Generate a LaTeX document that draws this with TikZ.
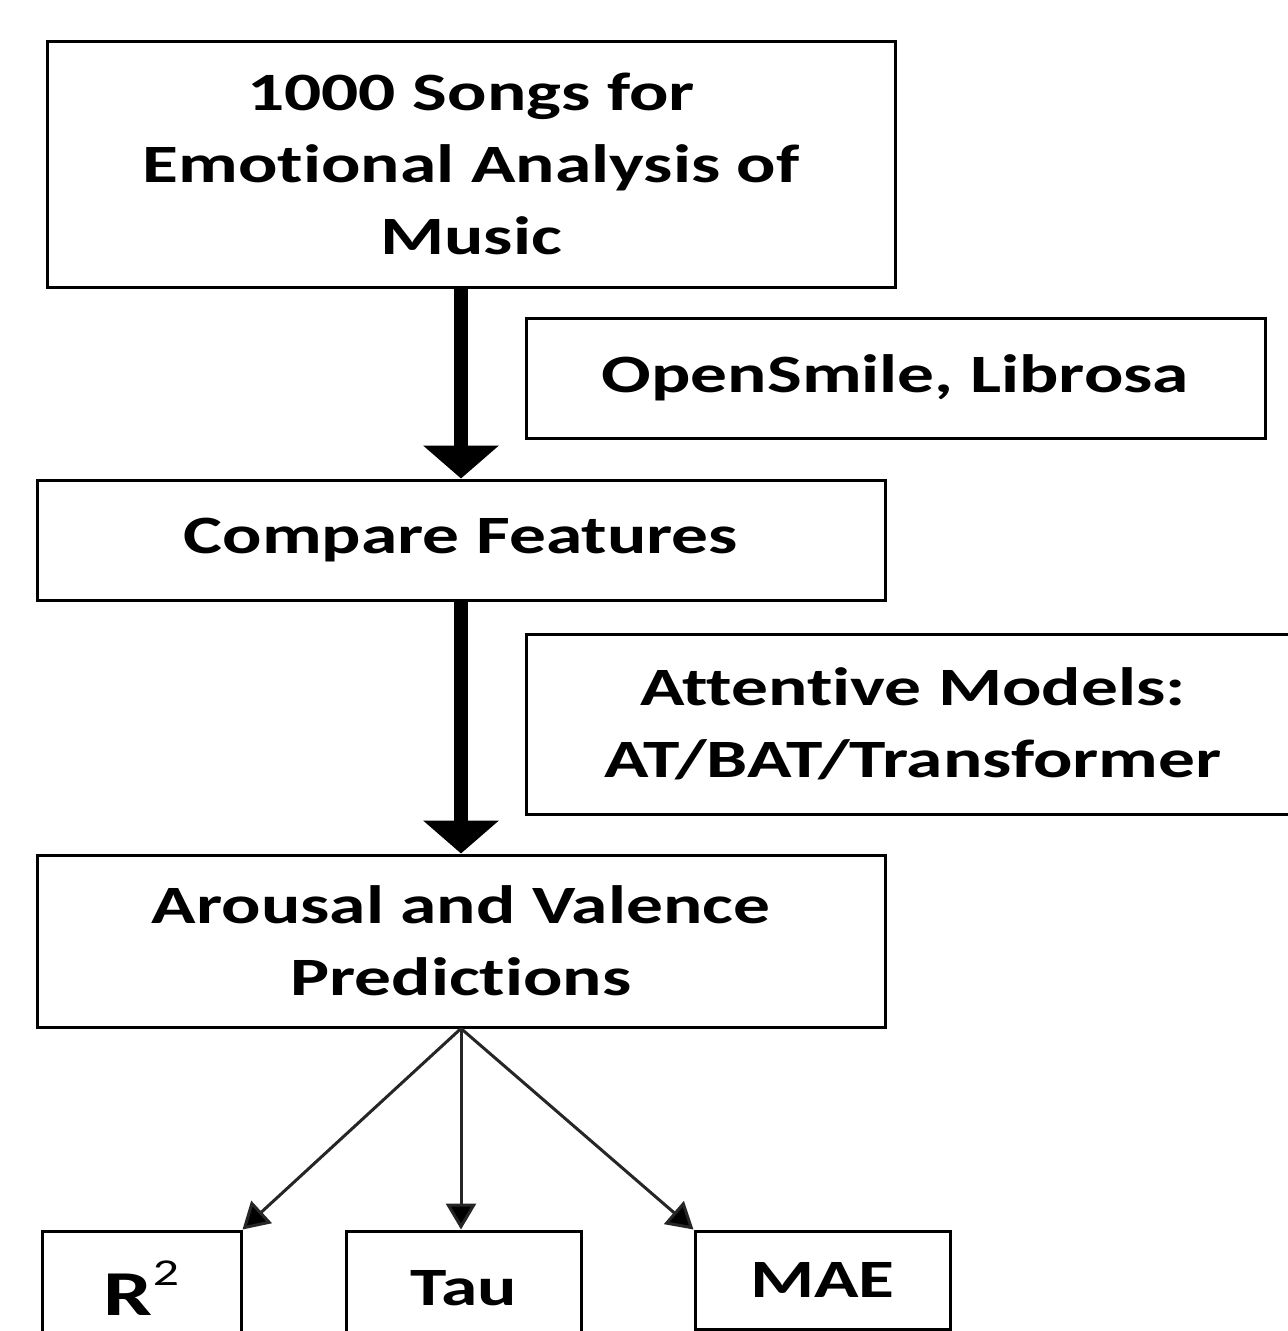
\documentclass[tikz,border=0pt]{standalone}
\usepackage{fontspec}
\setmainfont{Carlito}[FakeStretch=1.36, Ligatures=NoCommon]
\usetikzlibrary{arrows.meta}
\begin{document}
\begin{tikzpicture}[x=1pt,y=-1pt,
  box/.style={draw=black, line width=3pt, fill=none, inner sep=0pt, align=center,
    font=\fontsize{54}{72}\selectfont\bfseries},
  bigarrow/.style={line width=14pt, -{Triangle[width=74pt,length=33pt]}},
  thinarrow/.style={line width=3pt, draw=black!85, -{Triangle[width=30pt,length=26pt,fill=black]}}
]
\useasboundingbox (0,0) rectangle (1288,1331);
\clip (0,0) rectangle (1288,1331);
\fill[white] (0,0) rectangle (1288,1331);

\node[box, minimum width=848pt, minimum height=246pt] (songs) at (471,164)
  {1000 Songs for\\Emotional Analysis of\\Music};
\node[box, minimum width=739pt, minimum height=120pt] (feat) at (895.5,378)
  {OpenSmile, Librosa};
\node[box, minimum width=848pt, minimum height=120pt] (compare) at (461,540)
  {Compare Features};
\node[box, minimum width=774pt, minimum height=180pt] (models) at (913,724)
  {Attentive Models:\\AT/BAT/Transformer};
\node[box, minimum width=848pt, minimum height=172pt] (pred) at (461,941)
  {Arousal and Valence\\Predictions};
\node[box, minimum width=199pt, minimum height=114pt] (r2) at (141.5,1288)
  {{\fontsize{64}{64}\selectfont R}\raisebox{0.55em}{\fontsize{38}{38}\selectfont\mdseries 2}};
\node[box, minimum width=235pt, minimum height=114pt] (tau) at (463.5,1288)
  {Tau};
\node[box, minimum width=255pt, minimum height=98pt] (mae) at (822.5,1280)
  {MAE};

\draw[bigarrow] (compare.north |- songs.south) -- (compare.north);
\draw[bigarrow] (compare.south) -- (pred.north);

\draw[thinarrow] (pred.south) -- (r2.north east);
\draw[thinarrow] (pred.south) -- (pred.south |- tau.north);
\draw[thinarrow] (pred.south) -- (mae.north west);
\end{tikzpicture}
\end{document}
